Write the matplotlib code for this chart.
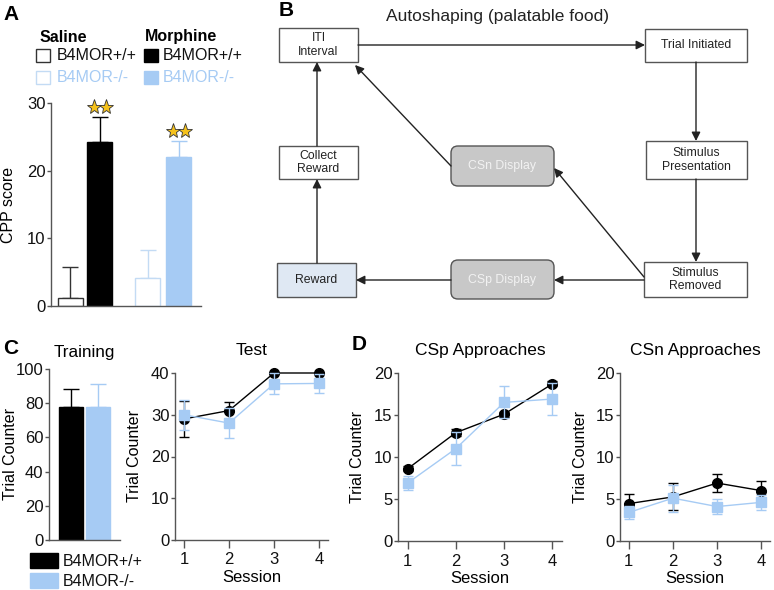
import numpy as np
import matplotlib.pyplot as plt
from matplotlib.patches import Rectangle, FancyBboxPatch

plt.rcParams['font.family'] = ['Liberation Sans', 'DejaVu Sans']

# ------------------------------------------------------------------
# data
# ------------------------------------------------------------------
cpp_groups = ['Saline B4MOR+/+', 'Morphine B4MOR+/+', 'Saline B4MOR-/-', 'Morphine B4MOR-/-']
cpp_mean = [1.2, 24.3, 4.1, 22.0]
cpp_sem = [4.5, 3.6, 4.2, 2.4]
cpp_stars = [False, True, False, True]

genotypes = ['B4MOR+/+', 'B4MOR-/-']
train_mean = [77.5, 77.5]
train_sem = [11.0, 14.0]

sessions = [1, 2, 3, 4]
test_wt = [29.0, 31.0, 40.0, 40.0]
test_wt_sem = [4.4, 2.0, 0.0, 0.0]
test_ko = [30.0, 28.0, 37.4, 37.5]
test_ko_sem = [3.6, 3.5, 2.5, 2.3]

csp_wt = [8.6, 12.9, 15.1, 18.7]
csp_wt_sem = [0.3, 0.4, 0.3, 0.3]
csp_ko = [6.9, 11.0, 16.5, 16.9]
csp_ko_sem = [0.8, 2.0, 1.9, 1.9]

csn_wt = [4.45, 5.25, 6.9, 6.0]
csn_wt_sem = [1.1, 1.6, 1.1, 1.2]
csn_ko = [3.4, 5.1, 4.1, 4.6]
csn_ko_sem = [0.8, 1.6, 0.9, 0.9]

# ------------------------------------------------------------------
BLUE = '#a6cbf4'
BLUE_EDGE = '#c3dbf4'
SPINE = '#555555'
W, H = 774, 590

fig = plt.figure(figsize=(W / 100, H / 100), dpi=100)


def px_axes(l, t, r, b):
    return fig.add_axes([l / W, 1 - b / H, (r - l) / W, (b - t) / H])


def style(ax):
    for s in ['top', 'right']:
        ax.spines[s].set_visible(False)
    for s in ['left', 'bottom']:
        ax.spines[s].set_color(SPINE)
        ax.spines[s].set_linewidth(1.0)
    ax.tick_params(colors=SPINE, labelcolor='#111111', labelsize=12, width=1.0)
    ax.tick_params(axis='y', length=3, pad=1)
    ax.tick_params(axis='x', length=6, pad=3)


def put_ylabel(ax, txt, xpos):
    ax.set_ylabel(txt, fontsize=11.5)
    ax.yaxis.set_label_coords(xpos, 0.5)


# overlay for diagram / legends / panel letters (pixel coords)
ov = fig.add_axes([0, 0, 1, 1])
ov.set_xlim(0, W)
ov.set_ylim(H, 0)
ov.axis('off')

# ---------------- Panel A ----------------
axA = px_axes(51, 103, 201, 306)
style(axA)
bar_x = [0, 1.18, 3.1, 4.34]
faces = ['white', 'black', 'white', BLUE]
edges = ['#333333', 'black', BLUE_EDGE, BLUE]
for x, m, s, fc, ec in zip(bar_x, cpp_mean, cpp_sem, faces, edges):
    axA.bar(x, m, width=1.0, color=fc, edgecolor=ec, linewidth=1.0, zorder=2)
    axA.errorbar(x, m, yerr=[[0], [s]], fmt='none', ecolor=ec,
                 elinewidth=1.0, capsize=6, capthick=1.0, zorder=1)
for x, m, s, st in zip(bar_x, cpp_mean, cpp_sem, cpp_stars):
    if st:
        axA.plot([x - 0.24, x + 0.24], [m + s + 1.5] * 2, ls='none', marker='*', ms=11,
                 mfc='#f6c21c', mec='#333333', mew=0.6, clip_on=False)
axA.set_xlim(-0.76, 5.24)
axA.set_ylim(0, 30)
axA.set_yticks([0, 10, 20, 30])
axA.set_xticks([])
put_ylabel(axA, 'CPP score', -0.235)

# legend A
ov.text(40, 37, 'Saline', fontsize=11.5, fontweight='bold', va='center', ha='left')
ov.text(145, 37, 'Morphine', fontsize=11.5, fontweight='bold', va='center', ha='left')
ov.add_patch(Rectangle((36, 49), 14, 13, facecolor='white', edgecolor='#333333', lw=1))
ov.text(57, 55.5, genotypes[0], fontsize=11.5, va='center', color='#111111')
ov.add_patch(Rectangle((144, 49), 14, 13, facecolor='black', edgecolor='black', lw=1))
ov.text(163, 55.5, genotypes[0], fontsize=11.5, va='center', color='#111111')
ov.add_patch(Rectangle((36, 71), 14, 13, facecolor='white', edgecolor=BLUE_EDGE, lw=1))
ov.text(57, 78, genotypes[1], fontsize=11.5, va='center', color=BLUE)
ov.add_patch(Rectangle((144, 71), 14, 13, facecolor=BLUE, edgecolor=BLUE, lw=1))
ov.text(163, 78, genotypes[1], fontsize=11.5, va='center', color=BLUE)

# ---------------- Panel B (diagram) ----------------
ov.text(497, 17, 'Autoshaping (palatable food)', fontsize=12.5, ha='center', va='center',
        color='#222222')
nodes = {
    'iti': (279, 28, 358, 62, 'ITI\nInterval', 'white', '#555555', '#222222', False),
    'trial': (645, 29, 747, 62, 'Trial Initiated', 'white', '#555555', '#222222', False),
    'pres': (646, 141, 747, 179, 'Stimulus\nPresentation', 'white', '#555555', '#222222', False),
    'removed': (644, 262, 747, 297, 'Stimulus\nRemoved', 'white', '#555555', '#222222', False),
    'csn': (451, 146, 554, 186, 'CSn Display', '#c8c8c8', '#555555', '#f2f2f2', True),
    'csp': (451, 260, 554, 299, 'CSp Display', '#c8c8c8', '#555555', '#f2f2f2', True),
    'reward': (277, 263, 356, 297, 'Reward', '#dfe8f3', '#555555', '#222222', False),
    'collect': (279, 146, 358, 179, 'Collect\nReward', 'white', '#555555', '#222222', False),
}
for key, (l, t, r, b, txt, fc, ec, tc, rnd) in nodes.items():
    if rnd:
        ov.add_patch(FancyBboxPatch((l + 7, t + 7), r - l - 14, b - t - 14,
                                    boxstyle='round,pad=7', facecolor=fc, edgecolor=ec, lw=1))
    else:
        ov.add_patch(Rectangle((l, t), r - l, b - t, facecolor=fc, edgecolor=ec, lw=1))
    ov.text((l + r) / 2, (t + b) / 2, txt, fontsize=8.8, ha='center', va='center',
            color=tc, linespacing=1.15)

arrows = [
    ((358, 45), (645, 45)),
    ((696, 62), (696, 141)),
    ((696, 179), (696, 262)),
    ((644, 280), (554, 280)),
    ((644, 277), (554, 168)),
    ((451, 280), (356, 280)),
    ((317, 263), (317, 179)),
    ((317, 146), (317, 62)),
    ((451, 166), (355, 65)),
]
for (x0, y0), (x1, y1) in arrows:
    ov.annotate('', xy=(x1, y1), xytext=(x0, y0),
                arrowprops=dict(arrowstyle='-|>', color='#222222', lw=1.0,
                                mutation_scale=13, shrinkA=0, shrinkB=0))

# ---------------- Panel C ----------------
axT = px_axes(49, 369, 120, 540)
style(axT)
tr_x = [0, 1.125]
tr_col = ['black', BLUE]
for x, m, s, c in zip(tr_x, train_mean, train_sem, tr_col):
    axT.bar(x, m, width=1.0, color=c, edgecolor=c, zorder=2)
    axT.errorbar(x, m, yerr=[[0], [s]], fmt='none', ecolor=c, elinewidth=1.0,
                 capsize=6, capthick=1.0, zorder=1)
axT.set_xlim(-0.92, 2.04)
axT.set_ylim(0, 100)
axT.set_yticks([0, 20, 40, 60, 80, 100])
axT.set_xticks([])
put_ylabel(axT, 'Trial Counter', -0.44)
axT.set_title('Training', fontsize=12.3, pad=9)

ov.add_patch(Rectangle((30, 553), 28, 15, facecolor='black', edgecolor='black'))
ov.text(63, 561, genotypes[0], fontsize=11.5, va='center', color='#111111')
ov.add_patch(Rectangle((30, 573), 28, 15, facecolor=BLUE, edgecolor=BLUE))
ov.text(63, 581, genotypes[1], fontsize=11.5, va='center', color='#111111')


def line_panel(ax, wt, wt_sem, ko, ko_sem, ymax, yticks, title, ylab_x):
    style(ax)
    ax.errorbar(sessions, wt, yerr=wt_sem, color='black', ecolor='black', lw=1.0,
                marker='o', ms=7, capsize=3.5, elinewidth=1.0, zorder=3, clip_on=False)
    ax.errorbar(sessions, ko, yerr=ko_sem, color=BLUE, ecolor=BLUE, lw=1.0,
                marker='s', ms=7.5, capsize=3.5, elinewidth=1.0, zorder=4, clip_on=False)
    ax.set_xlim(0.8, 4.2)
    ax.set_ylim(0, ymax)
    ax.set_xticks(sessions)
    ax.set_yticks(yticks)
    ax.set_xlabel('Session', fontsize=12, labelpad=2)
    put_ylabel(ax, 'Trial Counter', ylab_x)
    ax.set_title(title, fontsize=12.5, pad=13)


axTest = px_axes(175, 373, 328, 540)
line_panel(axTest, test_wt, test_wt_sem, test_ko, test_ko_sem, 40, [0, 10, 20, 30, 40],
           'Test', -0.215)

# ---------------- Panel D ----------------
axP = px_axes(398, 373, 562, 541)
line_panel(axP, csp_wt, csp_wt_sem, csp_ko, csp_ko_sem, 20, [0, 5, 10, 15, 20],
           'CSp Approaches', -0.2)
axN = px_axes(620, 373, 770, 541)
line_panel(axN, csn_wt, csn_wt_sem, csn_ko, csn_ko_sem, 20, [0, 5, 10, 15, 20],
           'CSn Approaches', -0.213)

# panel letters
for lab, x, y in [('A', 3, 14), ('B', 279, 10), ('C', 3, 348), ('D', 352, 345)]:
    ov.text(x, y, lab, fontsize=15, fontweight='bold', ha='left', va='center')

ov.set_zorder(0)
fig.savefig('out.png', dpi=100)
